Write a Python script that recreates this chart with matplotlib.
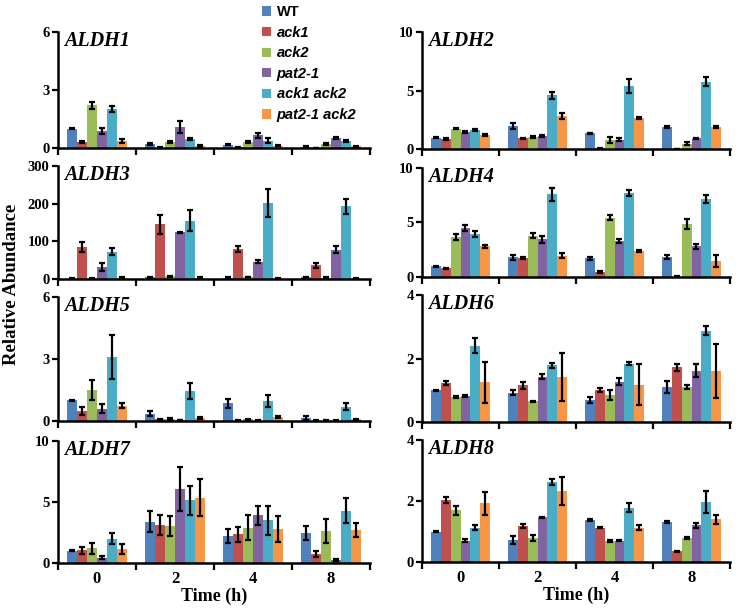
import numpy as np
import matplotlib
matplotlib.use("Agg")
import matplotlib.pyplot as plt
from matplotlib.patches import Patch

times = ["0", "2", "4", "8"]
lines = ["WT", "ack1", "ack2", "pat2-1", "ack1 ack2", "pat2-1 ack2"]
colors = ["#4F81BD", "#C0504D", "#9BBB59", "#8064A2", "#4BACC6", "#F79646"]

# values[gene] -> rows = lines, cols = time points
aldh1 = [[1.0, 0.2, 0.18, 0.05], [0.3, 0.02, 0.03, 0.0], [2.2, 0.3, 0.3, 0.2],
         [0.9, 1.1, 0.65, 0.5], [2.0, 0.45, 0.38, 0.35], [0.35, 0.1, 0.12, 0.08]]
aldh1_err = [[0.03, 0.05, 0.04, 0.03], [0.05, 0.01, 0.01, 0.0], [0.2, 0.05, 0.05, 0.04],
             [0.15, 0.3, 0.12, 0.05], [0.15, 0.06, 0.12, 0.05], [0.1, 0.03, 0.03, 0.03]]

aldh2 = [[0.95, 1.95, 1.35, 1.85], [0.85, 0.9, 0.05, 0.0], [1.75, 1.05, 0.75, 0.45],
         [1.45, 1.1, 0.8, 0.9], [1.65, 4.6, 5.4, 5.75], [1.2, 2.8, 2.65, 1.85]]
aldh2_err = [[0.05, 0.25, 0.05, 0.08], [0.1, 0.08, 0.02, 0.0], [0.08, 0.08, 0.25, 0.15],
             [0.1, 0.1, 0.1, 0.05], [0.1, 0.3, 0.6, 0.4], [0.05, 0.25, 0.08, 0.08]]

aldh3 = [[1, 4, 3, 4], [85, 145, 80, 36], [2, 7, 5, 3],
         [32, 124, 46, 78], [73, 155, 202, 193], [3, 3, 2, 2]]
aldh3_err = [[0.5, 1, 1, 1], [13, 26, 8, 7], [1, 2, 1, 1],
             [10, 2, 4, 10], [10, 27, 37, 20], [1, 1, 1, 1]]

aldh4 = [[1.0, 1.8, 1.7, 1.85], [0.8, 1.75, 0.45, 0.03], [3.65, 3.8, 5.45, 4.85],
         [4.5, 3.45, 3.3, 2.8], [3.95, 7.6, 7.7, 7.15], [2.8, 1.95, 2.4, 1.45]]
aldh4_err = [[0.05, 0.2, 0.1, 0.2], [0.05, 0.08, 0.1, 0.02], [0.3, 0.2, 0.25, 0.45],
             [0.3, 0.3, 0.2, 0.2], [0.25, 0.6, 0.25, 0.4], [0.1, 0.25, 0.08, 0.55]]

aldh5 = [[1.0, 0.35, 0.85, 0.15], [0.5, 0.08, 0.02, 0.02], [1.5, 0.1, 0.08, 0.02],
         [0.6, 0.05, 0.02, 0.02], [3.1, 1.45, 0.98, 0.7], [0.75, 0.15, 0.18, 0.08]]
aldh5_err = [[0.03, 0.12, 0.2, 0.1], [0.2, 0.03, 0.01, 0.01], [0.5, 0.05, 0.03, 0.01],
             [0.2, 0.02, 0.01, 0.01], [1.05, 0.4, 0.3, 0.15], [0.12, 0.05, 0.05, 0.03]]

aldh6 = [[1.0, 0.92, 0.7, 1.1], [1.23, 1.15, 1.0, 1.72], [0.8, 0.65, 0.85, 1.1],
         [0.83, 1.42, 1.27, 1.62], [2.4, 1.78, 1.83, 2.88], [1.25, 1.42, 1.18, 1.6]]
aldh6_err = [[0.02, 0.08, 0.1, 0.2], [0.05, 0.1, 0.07, 0.1], [0.03, 0.02, 0.15, 0.05],
             [0.03, 0.08, 0.12, 0.2], [0.23, 0.08, 0.05, 0.15], [0.65, 0.75, 0.65, 0.85]]

aldh7 = [[1.0, 3.4, 2.2, 2.45], [1.05, 3.1, 2.35, 0.75], [1.2, 3.05, 2.9, 2.6],
         [0.45, 6.05, 3.9, 0.25], [2.0, 5.15, 3.5, 4.3], [1.15, 5.35, 2.8, 2.7]]
aldh7_err = [[0.03, 0.85, 0.55, 0.6], [0.3, 0.8, 0.6, 0.25], [0.45, 0.8, 1.0, 1.0],
             [0.1, 1.8, 0.8, 0.05], [0.45, 1.2, 1.2, 1.0], [0.4, 1.5, 1.05, 0.55]]

aldh8 = [[1.0, 0.72, 1.38, 1.32], [2.03, 1.18, 1.13, 0.35], [1.7, 0.8, 0.68, 0.78],
         [0.7, 1.47, 0.7, 1.2], [1.12, 2.62, 1.78, 1.97], [1.92, 2.33, 1.12, 1.4]]
aldh8_err = [[0.02, 0.12, 0.03, 0.03], [0.1, 0.05, 0.03, 0.02], [0.15, 0.1, 0.04, 0.03],
             [0.05, 0.02, 0.02, 0.07], [0.08, 0.1, 0.15, 0.37], [0.37, 0.47, 0.08, 0.15]]

panels = [
    ("ALDH1", aldh1, aldh1_err, [0, 3, 6]),
    ("ALDH2", aldh2, aldh2_err, [0, 5, 10]),
    ("ALDH3", aldh3, aldh3_err, [0, 100, 200, 300]),
    ("ALDH4", aldh4, aldh4_err, [0, 5, 10]),
    ("ALDH5", aldh5, aldh5_err, [0, 3, 6]),
    ("ALDH6", aldh6, aldh6_err, [0, 2, 4]),
    ("ALDH7", aldh7, aldh7_err, [0, 5, 10]),
    ("ALDH8", aldh8, aldh8_err, [0, 2, 4]),
]

W, H = 747, 612
# pixel boxes (left, top, right, bottom)
boxes = [
    (58, 32, 370, 148), (422, 32, 730, 149),
    (58, 166, 370, 279), (422, 168, 730, 277),
    (58, 297, 370, 421), (422, 295, 730, 422),
    (58, 441, 370, 563), (422, 440, 730, 562),
]

serif = "Liberation Serif"
fig = plt.figure(figsize=(W / 100, H / 100), dpi=100)

bw = 0.128
x = np.arange(len(times))
for i, (name, vals, errs, yt) in enumerate(panels):
    l, t, r, b = boxes[i]
    ax = fig.add_axes([l / W, 1 - b / H, (r - l) / W, (b - t) / H])
    for k in range(len(lines)):
        pos = x + (k - 2.5) * bw
        ax.bar(pos, vals[k], bw, color=colors[k], edgecolor="none",
               yerr=errs[k], ecolor="black",
               error_kw=dict(elinewidth=1.6, capsize=2.5, capthick=1.6))
    ax.set_xlim(-0.5, 3.5)
    ax.set_ylim(yt[0], yt[-1])
    ax.set_yticks(yt)
    ax.set_yticklabels([str(v) for v in yt], fontfamily=serif,
                       fontweight="bold", fontsize=10.5)
    ax.set_xticks(x)
    ax.set_xticks(np.arange(-0.5, 4.0, 1.0), minor=True)
    ax.tick_params(axis="x", which="major", length=0, pad=6)
    ax.tick_params(axis="x", which="minor", length=5, width=1.6, direction="out")
    ax.tick_params(axis="y", length=4, width=1.6, direction="out", pad=2)
    if i >= 6:
        ax.set_xticklabels(times, fontfamily=serif, fontweight="bold", fontsize=12)
        ax.set_xlabel("Time (h)", fontfamily=serif, fontweight="bold",
                      fontsize=13, labelpad=0)
    else:
        ax.set_xticklabels([])
    for s in ["top", "right"]:
        ax.spines[s].set_visible(False)
    for s in ["left", "bottom"]:
        ax.spines[s].set_linewidth(1.8)
    ax.text(0.02, 1.01, name, transform=ax.transAxes, va="top", ha="left",
            fontfamily=serif, fontweight="bold", fontstyle="italic", fontsize=14.5)

fig.text(12 / W, 1 - 284 / H, "Relative Abundance", rotation=90, va="center",
         ha="center", fontfamily=serif, fontweight="bold", fontsize=13.5)

handles = [Patch(facecolor=c, edgecolor="none") for c in colors]
leg = fig.legend(handles, lines, loc="upper left",
                 bbox_to_anchor=(252 / W, 1 + 5 / H), frameon=False,
                 handlelength=0.6, handleheight=0.6, handletextpad=0.4,
                 labelspacing=0.45, borderpad=0.2,
                 prop=dict(family="Liberation Sans", weight="bold", size=10.5))
for k, txt in enumerate(leg.get_texts()):
    if k > 0:
        txt.set_fontstyle("italic")

fig.savefig("out.png", dpi=100)
